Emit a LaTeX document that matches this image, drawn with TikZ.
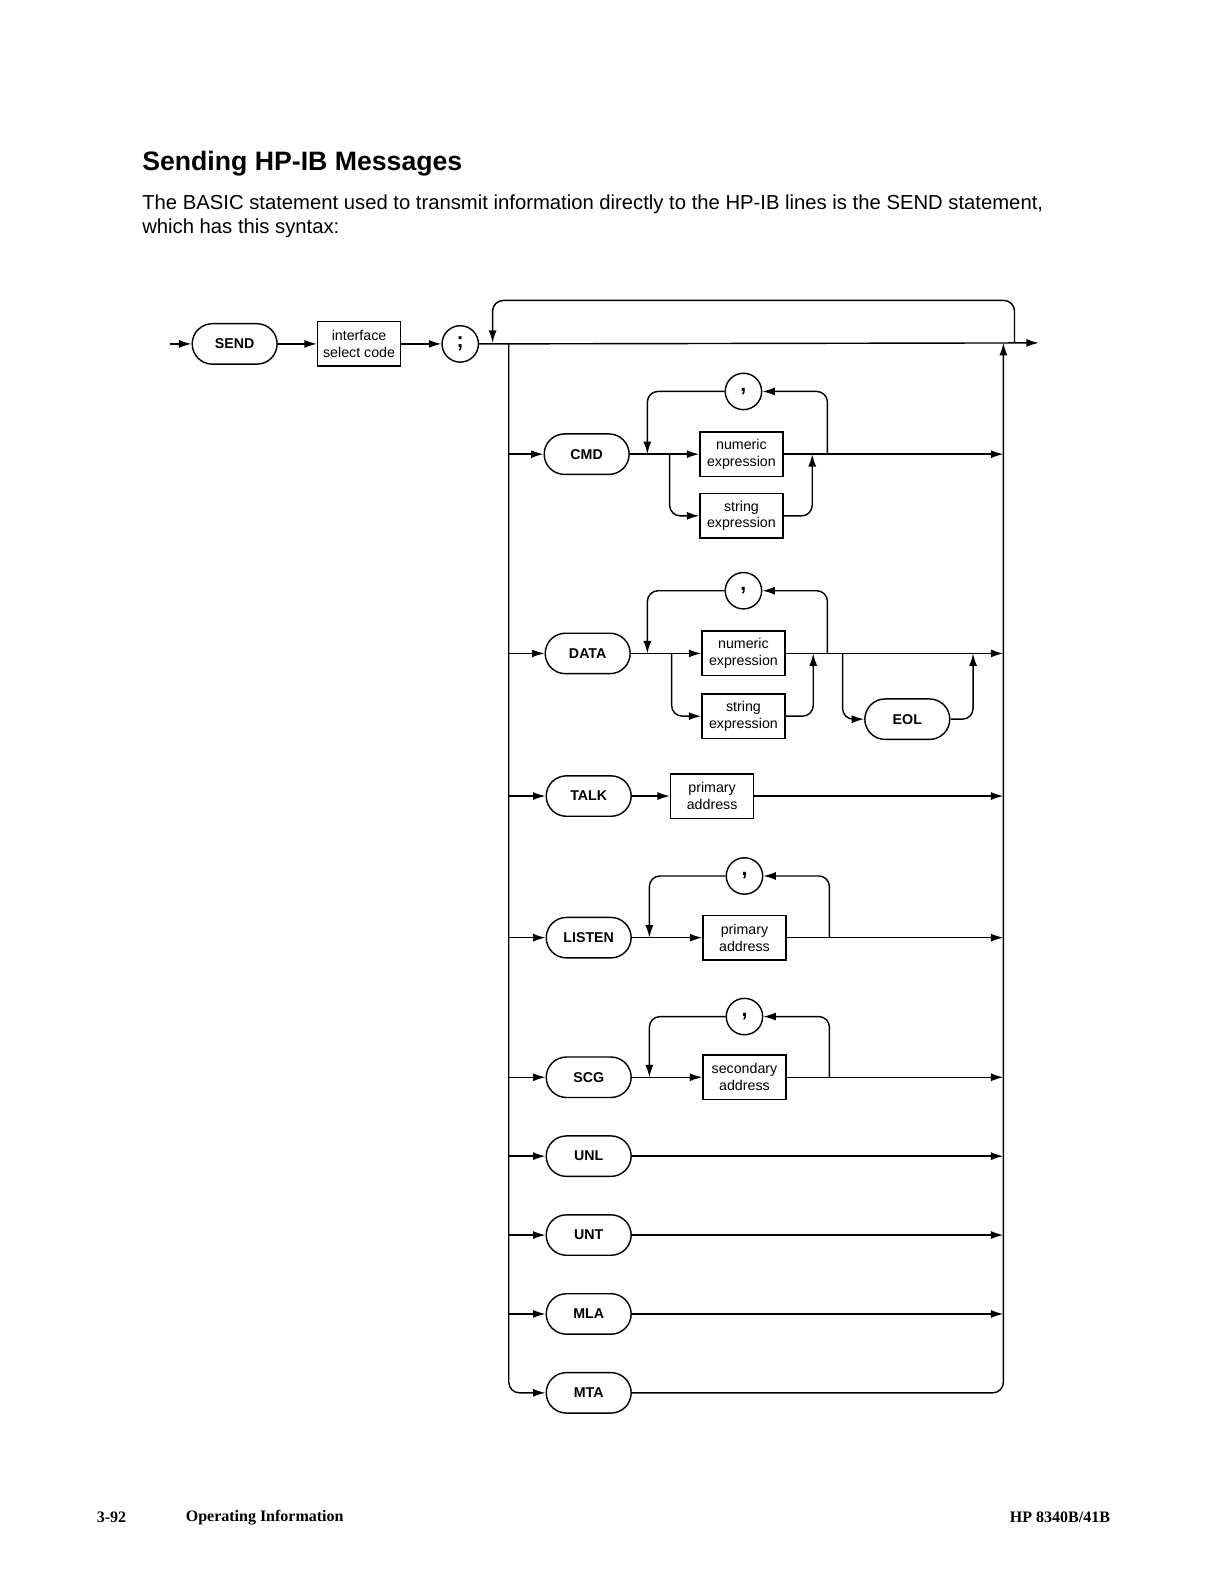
\documentclass[tikz,border=0pt]{standalone}
\usepackage{fontspec}
\setmainfont{Liberation Serif}
\setsansfont{Liberation Sans}
\usetikzlibrary{arrows.meta}
\begin{document}
\begin{tikzpicture}[x=0.02cm,y=-0.02cm,line width=0.8pt,
    >={Latex[length=7pt,width=4.5pt]},
    term/.style={draw,rounded corners=0.4cm,minimum width=1.68cm,minimum height=0.8cm,font=\sffamily\bfseries\fontsize{8}{9}\selectfont},
    box/.style={draw,align=center,minimum width=1.64cm,minimum height=0.88cm,inner sep=1pt,font=\sffamily\fontsize{8}{9.5}\selectfont},
    circ/.style={draw,circle,minimum size=0.72cm,inner sep=0pt,font=\sffamily\bfseries\large},
    rc/.style={rounded corners=6pt}]
  \useasboundingbox (0,0) rectangle (1214,1566);

  % Heading and text
  \node[anchor=west,inner sep=0pt,font=\sffamily\bfseries\fontsize{15}{17}\selectfont] (title) at (140,162) {Sending HP-IB Messages};
  \node[anchor=north west,align=left,inner sep=0pt,font=\sffamily\fontsize{11.4}{13.6}\selectfont] (intro) at (140,192)
    {The BASIC statement used to transmit information directly to the HP-IB lines is the SEND statement,\\which has this syntax:};

  % Statement head
  \coordinate (in) at (168,340);
  \node[term] (send) at (232,340) {SEND};
  \node[box] (isc) at (355,340) {interface\\select code};
  \node[circ] (semi) at (455,340) {;};
  \coordinate (out) at (1027,339);
  \draw[->] (in) -- (send);
  \draw[->] (send) -- (isc);
  \draw[->] (isc) -- (semi);
  \draw[->] (semi.east) -- (out);
  \draw[->,rc] (1003,339) -- (1003,297) -- (487,297) -- (487,339); % repeat loop

  % Rails
  \node[term] (mta) at (582,1377) {MTA};
  \draw[->,rc] (503,339) |- (mta);
  \draw[->,rc] (mta) -| (992,339);

  % CMD
  \node[term] (cmd) at (580,449) {CMD};
  \node[box] (cnum) at (733,449) {numeric\\expression};
  \node[box] (cstr) at (733,510) {string\\expression};
  \node[circ] (ccom) at (735,387) {,};
  \draw[->] (503,449) -- (cmd);
  \draw[->] (cmd) -- (cnum);
  \draw[->] (cnum) -- (992,449);
  \draw[->,rc] (662,449) |- (cstr);
  \draw[->,rc] (cstr) -| (803,449);
  \draw[->,rc] (818,449) |- (ccom);
  \draw[->,rc] (ccom) -| (640,449);

  % DATA
  \node[term] (data) at (581,646) {DATA};
  \node[box] (dnum) at (735,646) {numeric\\expression};
  \node[box] (dstr) at (735,708) {string\\expression};
  \node[circ] (dcom) at (735,584) {,};
  \node[term] (eol) at (897,711) {EOL};
  \draw[->] (503,646) -- (data);
  \draw[->] (data) -- (dnum);
  \draw[->] (dnum) -- (992,646);
  \draw[->,rc] (664,646) |- (dstr);
  \draw[->,rc] (dstr) -| (804,646);
  \draw[->,rc] (818,646) |- (dcom);
  \draw[->,rc] (dcom) -| (640,646);
  \draw[->,rc] (833,646) |- (eol);
  \draw[->,rc] (eol) -| (962,646);

  % TALK
  \node[term] (talk) at (582,787) {TALK};
  \node[box] (tadr) at (704,787) {primary\\address};
  \draw[->] (503,787) -- (talk);
  \draw[->] (talk) -- (tadr);
  \draw[->] (tadr) -- (992,787);

  % LISTEN
  \node[term] (listen) at (582,927) {LISTEN};
  \node[box] (ladr) at (736,927) {primary\\address};
  \node[circ] (lcom) at (736,866) {,};
  \draw[->] (503,927) -- (listen);
  \draw[->] (listen) -- (ladr);
  \draw[->] (ladr) -- (992,927);
  \draw[->,rc] (820,927) |- (lcom);
  \draw[->,rc] (lcom) -| (642,927);

  % SCG
  \node[term] (scg) at (582,1065) {SCG};
  \node[box] (sadr) at (736,1065) {secondary\\address};
  \node[circ] (scom) at (736,1005) {,};
  \draw[->] (503,1065) -- (scg);
  \draw[->] (scg) -- (sadr);
  \draw[->] (sadr) -- (992,1065);
  \draw[->,rc] (820,1065) |- (scom);
  \draw[->,rc] (scom) -| (642,1065);

  % Plain rows
  \foreach \n/\y in {UNL/1143,UNT/1221,MLA/1299}{
    \node[term] (\n) at (582,\y) {\n};
    \draw[->] (503,\y) -- (\n);
    \draw[->] (\n) -- (992,\y);
  }

  % Footer
  \node[anchor=west,inner sep=0pt,font=\bfseries\fontsize{9}{11}\selectfont] (page) at (95,1500) {3-92};
  \node[anchor=west,inner sep=0pt,font=\bfseries\fontsize{9}{11}\selectfont] (sect) at (183,1500) {Operating Information};
  \node[anchor=east,inner sep=0pt,font=\bfseries\fontsize{9}{11}\selectfont] (model) at (1098,1500) {HP 8340B/41B};
\end{tikzpicture}
\end{document}
